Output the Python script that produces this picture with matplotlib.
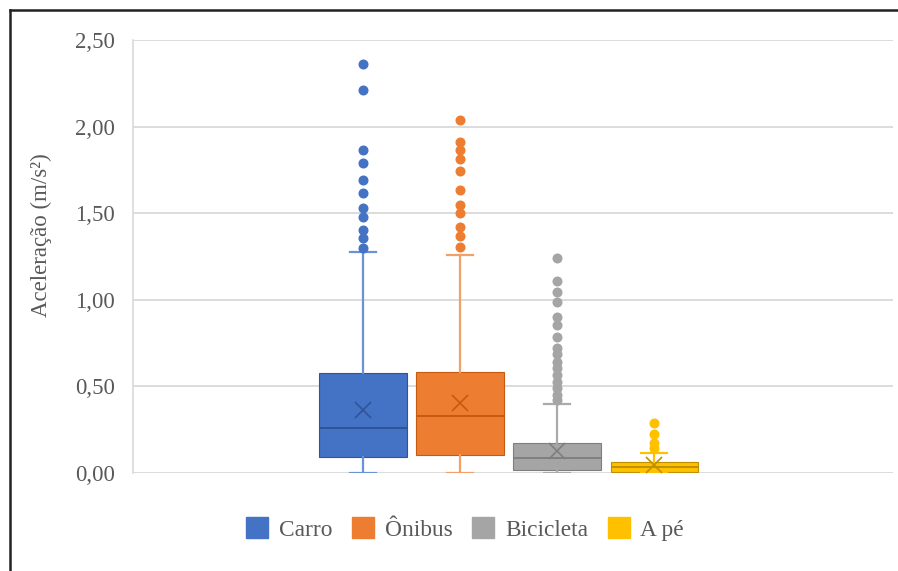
import matplotlib
matplotlib.use("Agg")
import matplotlib.pyplot as plt
from matplotlib.patches import Patch
from matplotlib.lines import Line2D
from matplotlib.ticker import FuncFormatter

plt.rcParams['font.family'] = ['Liberation Serif', 'DejaVu Serif']

categories = ["Carro", "Ônibus", "Bicicleta", "A pé"]
q1 = [0.094, 0.104, 0.017, 0.004]
medians = [0.262, 0.331, 0.085, 0.033]
q3 = [0.576, 0.581, 0.176, 0.065]
whis_lo = [0.0, 0.0, 0.0, 0.0]
whis_hi = [1.274, 1.259, 0.398, 0.118]
means = [0.364, 0.402, 0.128, 0.047]
fliers_carro = [2.361, 2.211, 1.865, 1.788, 1.692, 1.615, 1.532, 1.480, 1.403, 1.359, 1.297]
fliers_onibus = [2.038, 1.913, 1.865, 1.813, 1.746, 1.634, 1.547, 1.499, 1.422, 1.370, 1.303]
fliers_bicicleta = [1.239, 1.110, 1.047, 0.989, 0.899, 0.855, 0.783, 0.724, 0.685, 0.643,
                    0.604, 0.566, 0.527, 0.489, 0.450, 0.421]
fliers_ape = [0.290, 0.225, 0.175, 0.144]
fliers = [fliers_carro, fliers_onibus, fliers_bicicleta, fliers_ape]
yticks = [0.0, 0.5, 1.0, 1.5, 2.0, 2.5]

fills = ['#4472C4', '#ED7D31', '#A5A5A5', '#FFC000']
darks = ['#2F5597', '#C55A11', '#7F7F7F', '#BF9000']
whisk = ['#6A92D6', '#F0A068', '#ABABAB', '#FFC000']

fig = plt.figure(figsize=(8.98, 5.71), dpi=100)
ax = fig.add_axes([133/898, 98/571, (893-133)/898, (473-40)/571])

for i in range(len(categories)):
    st = [dict(med=medians[i], q1=q1[i], q3=q3[i], whislo=whis_lo[i], whishi=whis_hi[i],
               mean=means[i], fliers=fliers[i], label=categories[i])]
    ax.bxp(st, positions=[i], widths=0.9, capwidths=0.27, patch_artist=True,
           showmeans=True, showfliers=True,
           boxprops=dict(facecolor=fills[i], edgecolor=darks[i], linewidth=0.8),
           medianprops=dict(color=darks[i], linewidth=1.4),
           whiskerprops=dict(color=whisk[i], linewidth=1.6),
           capprops=dict(color=whisk[i], linewidth=1.6),
           meanprops=dict(marker='x', markeredgecolor=darks[i], markersize=12, markeredgewidth=1.2),
           flierprops=dict(marker='o', markerfacecolor=fills[i], markeredgecolor=fills[i], markersize=6.2),
           zorder=3)

ax.set_xlim(-2.37, 5.46)
ax.set_ylim(0, 2.5)
ax.set_yticks(yticks)
ax.yaxis.set_major_formatter(FuncFormatter(lambda v, p: f"{v:.2f}".replace('.', ',')))
ax.set_xticks([])
ax.grid(axis='y', color='#D9D9D9', linewidth=1.3, zorder=0)
ax.set_axisbelow(True)
for s in ['top', 'right', 'bottom']:
    ax.spines[s].set_visible(False)
ax.spines['left'].set_color('#D9D9D9')
ax.spines['left'].set_linewidth(1.2)
ax.tick_params(axis='y', length=0, pad=13, labelsize=16.5, labelcolor='#595959')
ax.set_ylabel("Aceleração (m/s²)", fontsize=16.5, color='#595959')
ax.yaxis.set_label_coords(-0.1066, 0.55)

handles = [Patch(facecolor=fills[i], edgecolor=fills[i]) for i in range(len(categories))]
fig.legend(handles, categories, loc='center', bbox_to_anchor=(465/898, 1 - 529/571), ncol=4,
           frameon=False, fontsize=16.8, labelcolor='#595959', handlelength=0.95, handleheight=0.95,
           handletextpad=0.45, columnspacing=0.85)

fig.add_artist(Line2D([10/898, 10/898], [0, 1 - 10/571], color='#222222', linewidth=1.8,
                      transform=fig.transFigure))
fig.add_artist(Line2D([10/898, 1], [1 - 10/571, 1 - 10/571], color='#222222', linewidth=1.8,
                      transform=fig.transFigure))

fig.savefig("out.png", dpi=100, facecolor='white')
